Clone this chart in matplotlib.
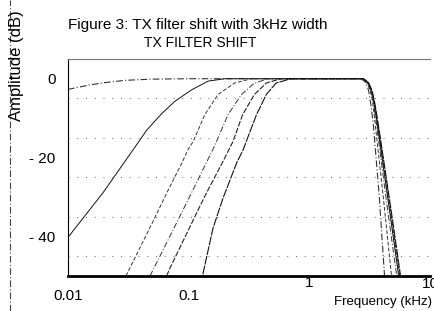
import matplotlib
matplotlib.use("Agg")
import matplotlib.pyplot as plt
from matplotlib.lines import Line2D

plt.rcParams["font.family"] = ["Liberation Sans", "DejaVu Sans"]

# high-pass side of each response (frequency in kHz, amplitude in dB)
HP_A_F = [0.01, 0.015, 0.02, 0.03, 0.05, 0.1]
HP_A_DB = [-2.7, -1.6, -1.0, -0.4, -0.1, 0]
HP_B_F = [0.01, 0.0195, 0.0352, 0.045, 0.06, 0.077, 0.106, 0.145, 0.2]
HP_B_DB = [-40.2, -28.9, -17.7, -13.0, -8.8, -5.7, -2.8, -0.6, 0]
HP_C_F = [0.0302, 0.05, 0.07, 0.088, 0.099, 0.109, 0.136, 0.175, 0.24, 0.33]
HP_C_DB = [-50, -36.5, -27.3, -21.3, -17.9, -15.9, -9.1, -4.0, -1.1, 0]
HP_D_F = [0.0478, 0.07, 0.116, 0.14, 0.159, 0.17, 0.212, 0.274, 0.35, 0.46]
HP_D_DB = [-50, -39.9, -26.4, -21.3, -17.9, -15.9, -9.1, -4.0, -1.1, 0]
HP_E_F = [0.0656, 0.07, 0.12, 0.138, 0.19, 0.216, 0.233, 0.28, 0.35, 0.44, 0.58]
HP_E_DB = [-50, -48, -33.2, -29.4, -21.3, -17.9, -15.9, -9.1, -4.0, -1.1, 0]
HP_F_F = [0.131, 0.159, 0.193, 0.25, 0.284, 0.30, 0.365, 0.44, 0.53, 0.7]
HP_F_DB = [-49.6, -37.9, -30.2, -21.3, -17.9, -15.9, -9.1, -4.0, -1.1, 0]

# low-pass skirts: three close together (the dark bundle) and three earlier ones
LP_MAIN1_F = [2.8, 3.05, 3.25, 3.42, 3.59, 4.0, 4.7, 5.5]
LP_MAIN1_DB = [0, -1, -3, -6, -10, -20, -35, -50]
LP_MAIN2_F = [2.8, 3.07, 3.28, 3.45, 3.62, 4.05, 4.77, 5.6]
LP_MAIN2_DB = [0, -1, -3, -6, -10, -20, -35, -50]
LP_MAIN3_F = [2.82, 3.1, 3.31, 3.48, 3.66, 4.1, 4.85, 5.7]
LP_MAIN3_DB = [0, -1, -3, -6, -10, -20, -35, -50]
LP_EARLY_F = [2.7, 2.95, 3.1, 3.25, 3.4, 3.8, 4.2]
LP_EARLY_DB = [0, -1, -3, -7, -12, -30, -50]
LP_MID_F = [2.75, 3.0, 3.2, 3.35, 3.5, 4.1, 4.8]
LP_MID_DB = [0, -1, -3, -6, -11, -30, -50]
LP_LATE_F = [2.8, 3.05, 3.25, 3.4, 3.55, 4.4, 5.3]
LP_LATE_DB = [0, -1, -3, -6, -10, -32, -50]

X_TICKS = [0.01, 0.1, 1, 10]
X_LABELS = ["0.01", "0.1", "1", "10"]
Y_TICKS = [0, -20, -40]
Y_LABELS = ["0", "- 20", "- 40"]
GRID_DB = [-5, -15, -25, -35, -45]

dashdot = (0, (6, 2, 1, 2))
curves = [
    (HP_A_F, HP_A_DB, LP_EARLY_F, LP_EARLY_DB, dashdot, 0.8, "#333333"),
    (HP_B_F, HP_B_DB, LP_MAIN1_F, LP_MAIN1_DB, "-", 0.7, "#111111"),
    (HP_C_F, HP_C_DB, LP_MID_F, LP_MID_DB, (0, (4, 2)), 0.7, "#333333"),
    (HP_D_F, HP_D_DB, LP_LATE_F, LP_LATE_DB, dashdot, 0.7, "#333333"),
    (HP_E_F, HP_E_DB, LP_MAIN2_F, LP_MAIN2_DB, (0, (5, 1.5)), 0.8, "#222222"),
    (HP_F_F, HP_F_DB, LP_MAIN3_F, LP_MAIN3_DB, (0, (8, 1)), 0.8, "#111111"),
]

W, H = 434, 311
fig = plt.figure(figsize=(W / 100, H / 100), dpi=100)
ax = fig.add_axes([68 / W, 35 / H, (430 - 68) / W, (276 - 59) / H])

for hp_f, hp_db, lp_f, lp_db, ls, lw, col in curves:
    ax.plot(hp_f + lp_f, hp_db + lp_db, color=col, lw=lw, ls=ls)

for g in GRID_DB:
    ax.axhline(g, color="#666666", lw=0.7, ls=(0, (1, 8)))

ax.set_xscale("log")
ax.set_xlim(0.01, 10)
ax.set_ylim(-50, 5)
ax.set_xticks(X_TICKS)
ax.set_xticklabels(X_LABELS)
ax.set_xticks([], minor=True)
ax.set_yticks(Y_TICKS)
ax.set_yticklabels(Y_LABELS)
ax.tick_params(axis="both", length=0, labelsize=11)
ax.tick_params(axis="x", pad=9)
ax.tick_params(axis="y", pad=9)

xt = ax.xaxis.get_major_ticks()
xt[2].set_pad(0)
xt[3].set_pad(1)

ax.spines["right"].set_visible(False)
ax.spines["top"].set_color("#777777")
ax.spines["top"].set_linewidth(0.8)
ax.spines["left"].set_linewidth(0.8)
ax.spines["bottom"].set_linewidth(2.0)

fig.text(68 / W, 1 - 25 / H, "Figure 3: TX filter shift with 3kHz width",
         fontsize=11, ha="left", va="center")
fig.text(200 / W, 1 - 43 / H, "TX FILTER SHIFT", fontsize=10, ha="center", va="center")
fig.text(17 / W, 1 - 66 / H, "Amplitude (dB)", fontsize=12, rotation=90,
         ha="center", va="center")
fig.text(432 / W, 1 - 302 / H, "Frequency (kHz)", fontsize=9.5, ha="right", va="center")

fig.add_artist(Line2D([10 / W, 10 / W], [0, 1], transform=fig.transFigure,
                      color="#444444", lw=0.8, ls=dashdot))

fig.savefig("out.png", dpi=100)
